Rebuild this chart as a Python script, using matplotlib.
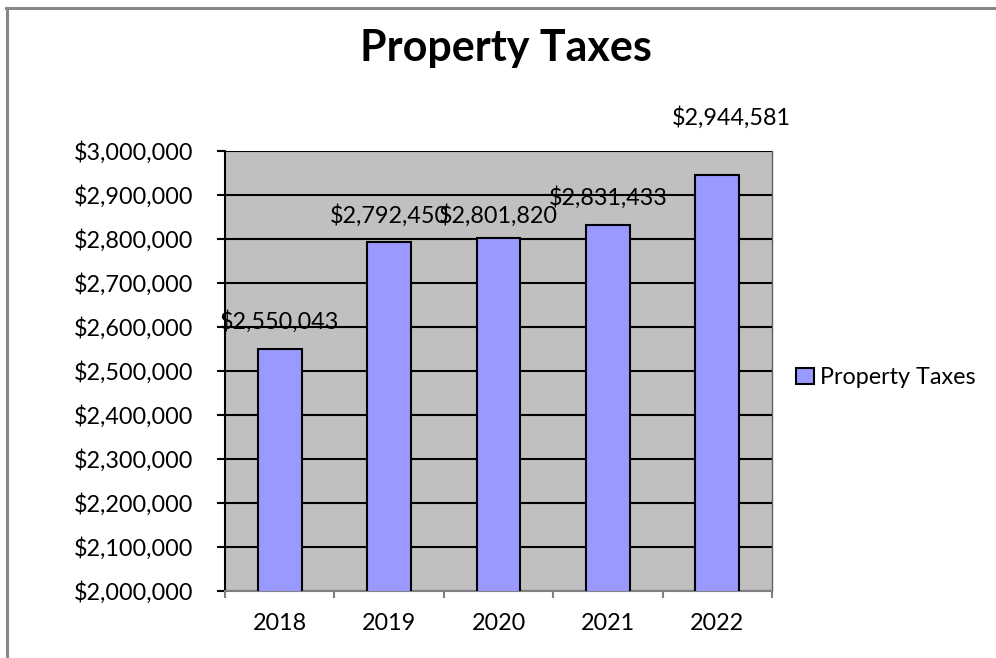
import matplotlib
matplotlib.use("Agg")
import matplotlib.pyplot as plt
from matplotlib.ticker import FuncFormatter, MultipleLocator, FixedLocator

years = ["2018", "2019", "2020", "2021", "2022"]
taxes = [2550043, 2792450, 2801820, 2831433, 2944581]
series_name = "Property Taxes"
title = "Property Taxes"
label_offsets = [(0, 27), (0, 27), (0, 23), (0, 28), (14, 58)]

plt.rcParams['font.family'] = ['Lato', 'DejaVu Sans']
FS = 16.8

fig = plt.figure(figsize=(9.96, 6.58), dpi=100)
ax = fig.add_axes([225/996, 67/658, 547/996, 440/658])
ax.set_facecolor('#C0C0C0')

x = list(range(len(years)))
ax.bar(x, taxes, width=0.4, color='#9999FF', edgecolor='black',
       linewidth=1.5, label=series_name, zorder=3)

ax.set_xlim(-0.5, len(years) - 0.5)
ax.set_ylim(2000000, 3000000)
ax.yaxis.set_major_locator(MultipleLocator(100000))
ax.yaxis.set_major_formatter(FuncFormatter(lambda v, p: f"${v:,.0f}"))
ax.grid(axis='y', color='black', linewidth=1.5, zorder=1)
ax.set_axisbelow(True)

ax.set_xticks(x)
ax.set_xticklabels(years)
ax.xaxis.set_minor_locator(FixedLocator([i - 0.5 for i in range(len(years) + 1)]))
ax.tick_params(axis='x', which='major', length=0, pad=16, labelsize=FS)
ax.tick_params(axis='x', which='minor', length=5, width=1.5, color='#808080')
ax.tick_params(axis='y', length=5.8, width=1.5, pad=17, labelsize=FS, color='black')

ax.spines['top'].set_visible(False)
ax.spines['left'].set_color('black')
ax.spines['left'].set_linewidth(1.5)
ax.spines['bottom'].set_color('#808080')
ax.spines['bottom'].set_linewidth(1.5)
ax.spines['right'].set_color('#606060')
ax.spines['right'].set_linestyle((0, (1, 1)))
ax.spines['right'].set_linewidth(1.0)

for xi, v, off in zip(x, taxes, label_offsets):
    ax.annotate(f"${v:,.0f}", xy=(xi, v), xytext=off, textcoords='offset pixels',
                ha='center', va='center', fontsize=FS, color='black', zorder=5,
                annotation_clip=False)

fig.text(505.5/996, 1 - 61/658, title, ha='center', va='baseline',
         fontsize=31, fontweight='bold')

leg = ax.legend(loc='center left', frameon=False,
                fontsize=FS, handlelength=0.77, handleheight=0.68, handletextpad=0.25,
                borderaxespad=0, borderpad=0)
leg.set_bbox_to_anchor((1.044, 0.485), transform=ax.transAxes)

fig.add_artist(plt.Line2D([7/996, 7/996], [0, 1 - 8/658], transform=fig.transFigure,
                          color='#888888', linewidth=2.2))
fig.add_artist(plt.Line2D([6/996, 1], [1 - 8/658, 1 - 8/658], transform=fig.transFigure,
                          color='#888888', linewidth=2.2))

fig.savefig('out.png', dpi=100)
